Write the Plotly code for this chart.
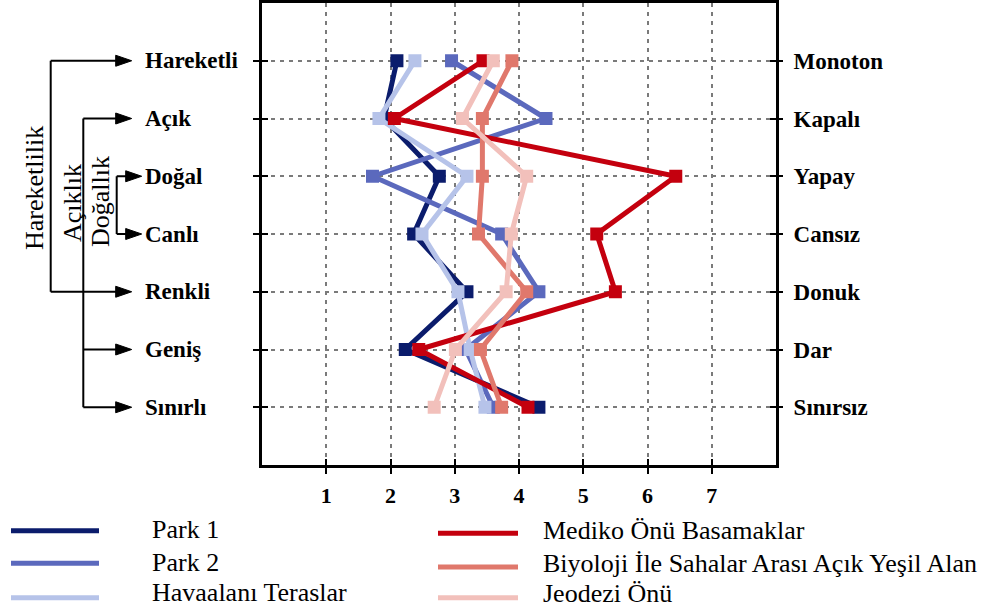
import plotly.graph_objects as go

# ---------------- data ----------------
rows_left = ["Hareketli", "Açık", "Doğal", "Canlı", "Renkli", "Geniş", "Sınırlı"]
rows_right = ["Monoton", "Kapalı", "Yapay", "Cansız", "Donuk", "Dar", "Sınırsız"]
x_ticks = [1, 2, 3, 4, 5, 6, 7]

series_names = ["Park 1", "Park 2", "Havaalanı Teraslar",
                "Mediko Önü Basamaklar", "Biyoloji İle Sahalar Arası Açık Yeşil Alan", "Jeodezi Önü"]
park1 = [2.10, 1.90, 2.76, 2.36, 3.19, 2.23, 4.31]
park2 = [2.95, 4.42, 1.72, 3.73, 4.31, 3.17, 3.60]
havaalani = [2.38, 1.82, 3.19, 2.49, 3.05, 3.24, 3.47]
mediko = [3.44, 2.06, 6.44, 5.21, 5.50, 2.44, 4.14]
biyoloji = [3.89, 3.43, 3.43, 3.37, 4.12, 3.40, 3.73]
jeodezi = [3.60, 3.12, 4.12, 3.88, 3.80, 3.01, 2.68]
series_values = [park1, park2, havaalani, mediko, biyoloji, jeodezi]

groups = ["Hareketlilik", "Açıklık", "Doğallık"]
group_rows = [["Hareketli", "Renkli"], ["Açık", "Geniş", "Sınırlı"], ["Doğal", "Canlı"]]

# ---------------- styles ----------------
colors = ["#0b1c6c", "#5b69bd", "#b6c3e9", "#c4000e", "#e0786c", "#f2c0bb"]
SERIF = "Liberation Serif"
W, H = 1005, 610
L, R, T, B = 262, 776, 3, 465


def px(x):
    return (x - L) / (R - L)


def py(y):
    return (B - y) / (B - T)


row_idx = list(range(1, len(rows_left) + 1))

fig = go.Figure()
for name, vals, col in zip(series_names, series_values, colors):
    fig.add_trace(go.Scatter(
        x=vals, y=row_idx, mode="lines+markers", name=name,
        line=dict(color=col, width=5),
        marker=dict(symbol="square", size=13, color=col),
        showlegend=False, hoverinfo="skip"))

# helper traces so overlay axes are drawn
for xa, ya in [("x2", "y"), ("x", "y2"), ("x", "y3"), ("x", "y4")]:
    fig.add_trace(go.Scatter(x=[None], y=[None], xaxis=xa, yaxis=ya,
                             showlegend=False, hoverinfo="skip"))

grid = dict(showgrid=True, gridcolor="#7a7a7a", gridwidth=1.5, griddash="4px,5px")
tick_font = dict(family=SERIF, size=22, color="black", weight="bold")

fig.update_layout(
    width=W, height=H,
    margin=dict(l=L, r=W - R, t=T, b=H - B, autoexpand=False),
    paper_bgcolor="white", plot_bgcolor="white",
    xaxis=dict(range=[0, 8], tickvals=x_ticks, ticks="outside", ticklen=6, tickwidth=2,
               tickcolor="black", showline=True, linewidth=3, linecolor="black", mirror=True,
               zeroline=False, tickfont=tick_font, ticklabelstandoff=3, **grid),
    xaxis2=dict(range=[0, 8], overlaying="x", side="bottom", tickvals=x_ticks, ticks="inside",
                ticklen=6, tickwidth=2, tickcolor="black", showticklabels=False,
                showgrid=False, showline=False, zeroline=False),
    yaxis=dict(range=[8, 0], tickvals=row_idx, ticks="outside", ticklen=6, tickwidth=2,
               tickcolor="black", showticklabels=False, showline=True, linewidth=3,
               linecolor="black", mirror=True, zeroline=False, **grid),
    yaxis2=dict(range=[8, 0], overlaying="y", side="right", tickvals=row_idx, ticktext=rows_right,
                ticks="outside", ticklen=6, tickwidth=2, tickcolor="black",
                showgrid=False, showline=False, zeroline=False,
                tickfont=dict(family=SERIF, size=23, color="black", weight="bold"),
                ticklabelstandoff=6),
    yaxis3=dict(range=[8, 0], overlaying="y", side="left", tickvals=row_idx, ticks="inside",
                ticklen=6, tickwidth=2, tickcolor="black", showticklabels=False,
                showgrid=False, showline=False, zeroline=False),
    yaxis4=dict(range=[8, 0], overlaying="y", side="right", tickvals=row_idx, ticks="inside",
                ticklen=6, tickwidth=2, tickcolor="black", showticklabels=False,
                showgrid=False, showline=False, zeroline=False),
)

shapes = []
annotations = []

# left row labels
for i, lab in zip(row_idx, rows_left):
    annotations.append(dict(x=px(143), y=i, xref="paper", yref="y", text=lab,
                            showarrow=False, xanchor="left", yanchor="middle",
                            font=dict(family=SERIF, size=23, color="black", weight="bold")))

# bracket structure
bracket_x = [50.7, 83.3, 116.7]
tip_x = [131.7, 131.7, 141.7]
label_pos = [(34, 188), (72, 203), (100, 202)]
for g, rows, bx, tx, (lx, ly) in zip(groups, group_rows, bracket_x, tip_x, label_pos):
    ys = [row_idx[rows_left.index(r)] for r in rows]
    shapes.append(dict(type="line", xref="paper", yref="y", x0=px(bx), x1=px(bx),
                       y0=min(ys), y1=max(ys), line=dict(color="black", width=2)))
    for yv in ys:
        shapes.append(dict(type="line", xref="paper", yref="y", x0=px(bx), x1=px(tx - 14),
                           y0=yv, y1=yv, line=dict(color="black", width=2)))
        hh = 5.5 / 57.75
        shapes.append(dict(type="path", xref="paper", yref="y",
                           path=f"M{px(tx - 16)},{yv - hh} L{px(tx)},{yv} L{px(tx - 16)},{yv + hh} Z",
                           fillcolor="black", line=dict(color="black", width=1)))
    annotations.append(dict(x=px(lx), y=py(ly), xref="paper", yref="paper", text=g,
                            showarrow=False, textangle=-90, xanchor="center", yanchor="middle",
                            font=dict(family=SERIF, size=26, color="black")))

# legend drawn below the chart
leg_line_x = [(11, 99), (438, 518)]
leg_text_x = [150, 541]
leg_line_y = [[530.7, 563.3, 597.7], [533.3, 567.0, 597.7]]
leg_text_y = [[529, 562, 592], [530, 563, 593]]
for k, (name, col) in enumerate(zip(series_names, colors)):
    c, r = divmod(k, 3)
    x0, x1 = leg_line_x[c]
    yl = leg_line_y[c][r]
    shapes.append(dict(type="line", xref="paper", yref="paper", x0=px(x0), x1=px(x1),
                       y0=py(yl), y1=py(yl), line=dict(color=col, width=5)))
    annotations.append(dict(x=px(leg_text_x[c]), y=py(leg_text_y[c][r]), xref="paper", yref="paper",
                            text=name, showarrow=False, xanchor="left", yanchor="middle",
                            font=dict(family=SERIF, size=26, color="black")))

fig.update_layout(shapes=shapes, annotations=annotations)
fig.write_html("out.html", config={"displayModeBar": False},
               post_script="document.body.style.margin='0';")
